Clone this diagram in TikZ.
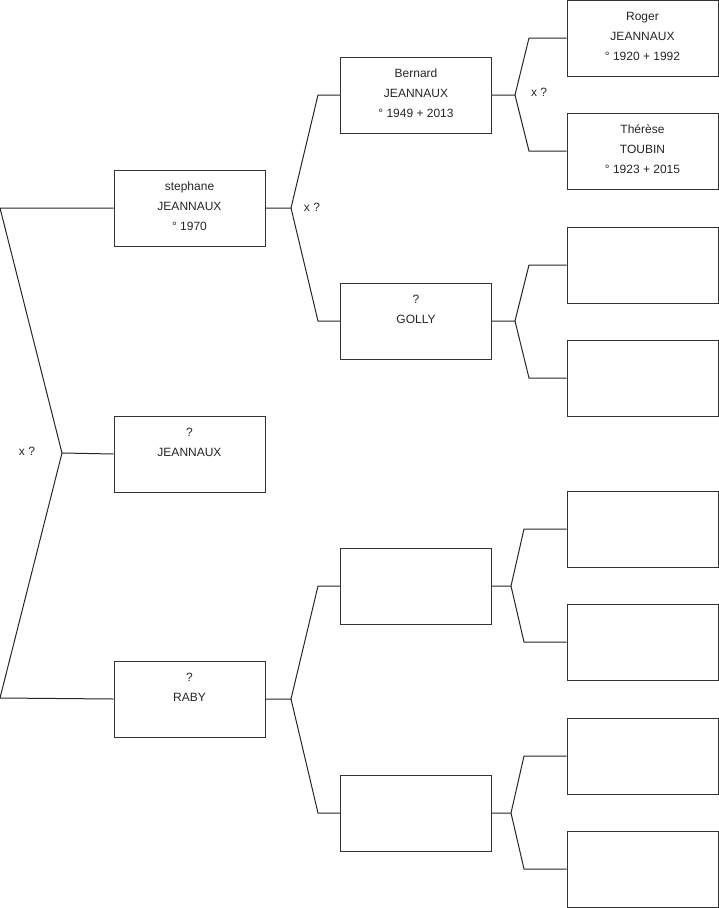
\documentclass[tikz,border=0pt]{standalone}
\usepackage{fontspec}
\setmainfont{Liberation Sans}
\newcommand{\ppl}[3]{\raisebox{2pt}[\height][\depth]{\fontsize{12pt}{20pt}\selectfont\begin{tabular}{@{}c@{}}#1\\#2\\\mbox{}#3\end{tabular}}}
\begin{document}
\begin{tikzpicture}[x=1pt,y=-1pt,
  person/.style={draw=black!80,line width=1pt,fill=white,minimum width=151pt,minimum height=76pt,inner sep=0pt,
    text=black!85},
  link/.style={draw=black!85,line width=1pt},
  lbl/.style={font=\fontsize{12pt}{14pt}\selectfont,text=black!85,inner sep=0pt}]
\useasboundingbox (0,0) rectangle (719,908);
% level 1
\node[person] (s) at (189.5,208) {\ppl{stephane}{JEANNAUX}{° 1970}};
\node[person] (j) at (189.5,454) {\ppl{?}{JEANNAUX}{}};
\node[person] (r) at (189.5,699) {\ppl{?}{RABY}{}};
% level 2
\node[person] (b) at (416,95) {\ppl{Bernard}{JEANNAUX}{° 1949 + 2013}};
\node[person] (g) at (416,321) {\ppl{?}{GOLLY}{}};
\node[person] (e1) at (416,586) {};
\node[person] (e2) at (416,813) {};
% level 3
\node[person] (rg) at (642.5,38) {\ppl{Roger}{JEANNAUX}{° 1920 + 1992}};
\node[person] (th) at (642.5,151) {\ppl{Thérèse}{TOUBIN}{° 1923 + 2015}};
\node[person] (g1) at (642.5,265) {};
\node[person] (g2) at (642.5,378) {};
\node[person] (a1) at (642.5,529) {};
\node[person] (a2) at (642.5,642) {};
\node[person] (c1) at (642.5,756) {};
\node[person] (c2) at (642.5,869) {};
% root fork
\coordinate (rt) at (0,208);
\coordinate (rb) at (0,698);
\coordinate (rf) at (62,453);
\draw[link] (s.west) -- (rt) -- (rf) -- (rb) -- (r.west);
\draw[link] (rf) -- (j.west);
\node[lbl] (x0) at (27,451) {x ?};
% stephane fork
\coordinate (sf) at (291,208);
\coordinate (sa) at (318,95);
\coordinate (sb) at (318,321);
\draw[link] (s.east) -- (sf) -- (sa) -- (b.west);
\draw[link] (sf) -- (sb) -- (g.west);
\node[lbl] (x1) at (312,207) {x ?};
% raby fork
\coordinate (rrf) at (291,699);
\coordinate (rra) at (318,586);
\coordinate (rrb) at (318,813);
\draw[link] (r.east) -- (rrf) -- (rra) -- (e1.west);
\draw[link] (rrf) -- (rrb) -- (e2.west);
% bernard fork
\coordinate (bf) at (515,95);
\coordinate (ba) at (529,38);
\coordinate (bb) at (529,151);
\draw[link] (b.east) -- (bf) -- (ba) -- (rg.west);
\draw[link] (bf) -- (bb) -- (th.west);
\node[lbl] (x2) at (539,92) {x ?};
% golly fork
\coordinate (gf) at (515,321);
\coordinate (ga) at (529,265);
\coordinate (gb) at (529,378);
\draw[link] (g.east) -- (gf) -- (ga) -- (g1.west);
\draw[link] (gf) -- (gb) -- (g2.west);
% e1 fork
\coordinate (ef) at (511,586);
\coordinate (ea) at (524,529);
\coordinate (eb) at (524,642);
\draw[link] (e1.east) -- (ef) -- (ea) -- (a1.west);
\draw[link] (ef) -- (eb) -- (a2.west);
% e2 fork
\coordinate (ff) at (511,813);
\coordinate (fa) at (524,756);
\coordinate (fb) at (524,869);
\draw[link] (e2.east) -- (ff) -- (fa) -- (c1.west);
\draw[link] (ff) -- (fb) -- (c2.west);
\end{tikzpicture}
\end{document}
